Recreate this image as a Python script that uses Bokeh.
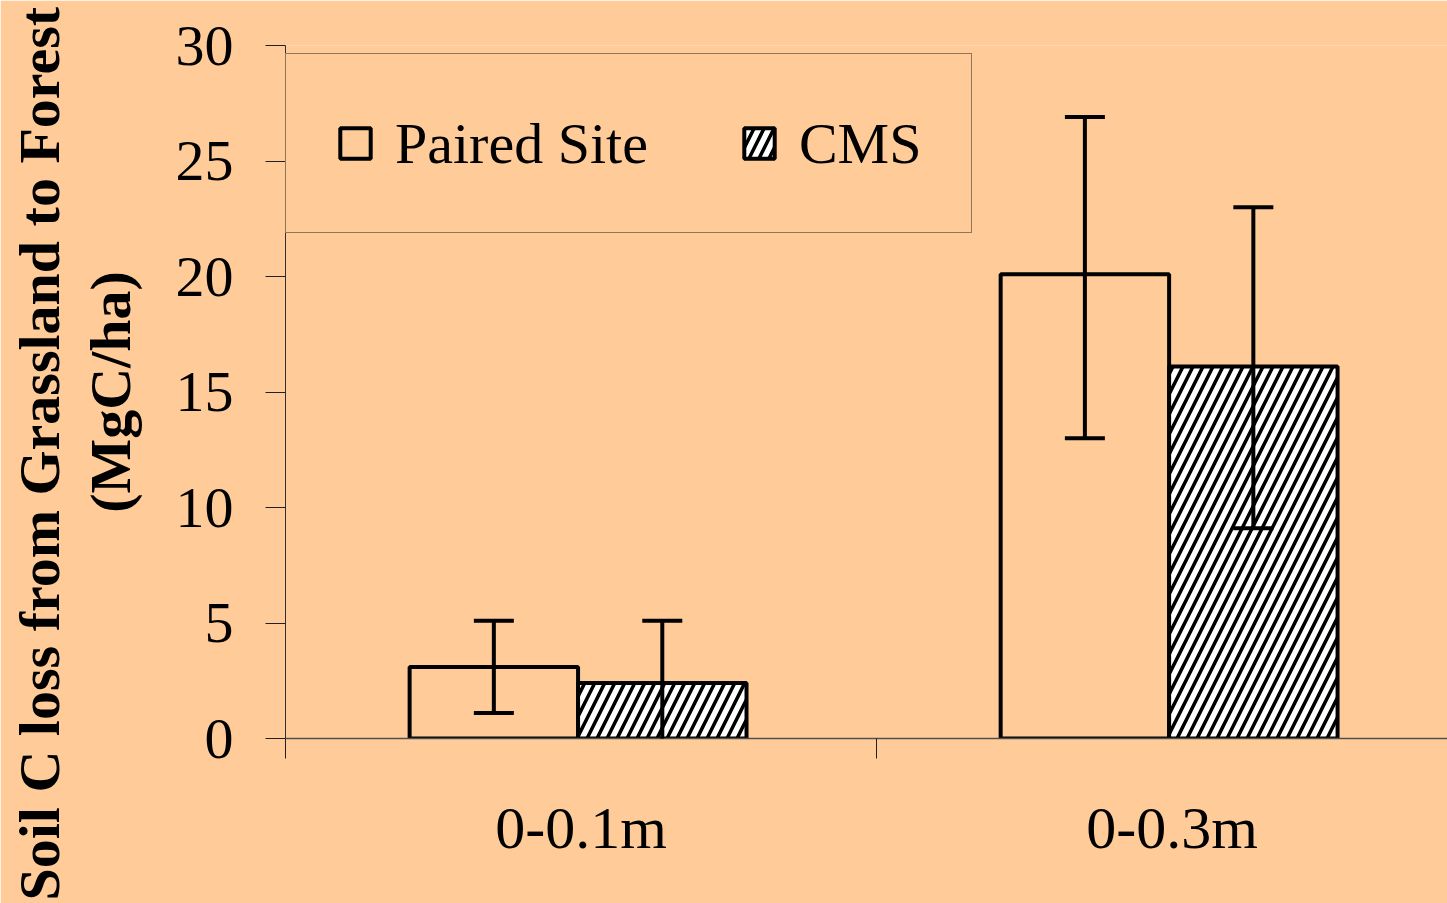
from bokeh.plotting import figure
from bokeh.models import (Range1d, FixedTicker, Whisker, ColumnDataSource, Legend,
                          LegendItem, TeeHead, Title)
from bokeh.embed import file_html
from bokeh.resources import INLINE

categories = ["0-0.1m", "0-0.3m"]
series_names = ["Paired Site", "CMS"]
paired = [3.1, 20.1]
paired_lo = [1.1, 13.0]
paired_hi = [5.1, 26.9]
cms = [2.4, 16.1]
cms_lo = [-0.3, 9.1]
cms_hi = [5.1, 23.0]
y_ticks = [0, 5, 10, 15, 20, 25, 30]
y_title = ["Soil C loss from Grassland to Forest", "(MgC/ha)"]

BG = "#FFCC99"
W = 0.285
SHIFT = -0.005
FONT = "Liberation Serif"

p = figure(width=1447, height=903, output_backend="svg", toolbar_location=None,
           x_range=Range1d(-0.5, 1.466), y_range=Range1d(0, 30),
           min_border_left=285, min_border_top=45, min_border_bottom=165, min_border_right=0)
p.background_fill_color = BG
p.border_fill_color = BG
p.outline_line_color = None
p.grid.visible = False

idx = list(range(len(categories)))
centers = [i + SHIFT for i in idx]
src_p = ColumnDataSource(dict(x=[c - W / 2 for c in centers], top=paired, lo=paired_lo, hi=paired_hi))
src_c = ColumnDataSource(dict(x=[c + W / 2 for c in centers], top=cms, lo=cms_lo, hi=cms_hi))

r1 = p.vbar(x="x", top="top", bottom=0, width=W, source=src_p, fill_color=None,
            line_color="black", line_width=4)
r2 = p.vbar(x="x", top="top", bottom=0, width=W, source=src_c, fill_color="white",
            line_color="black", line_width=4, hatch_pattern="/", hatch_color="black",
            hatch_scale=20, hatch_weight=3.5)

for src in (src_p, src_c):
    w = Whisker(source=src, base="x", upper="hi", lower="lo", line_color="black", line_width=4,
                upper_head=TeeHead(size=40, line_width=4, line_color="black"),
                lower_head=TeeHead(size=40, line_width=4, line_color="black"),
                level="overlay")
    p.add_layout(w)

# y axis
ya = p.yaxis[0]
ya.ticker = FixedTicker(ticks=y_ticks)
ya.major_label_text_font = FONT
ya.major_label_text_font_size = "58px"
ya.major_label_text_color = "black"
ya.major_tick_out = 20
ya.major_tick_in = 0
ya.minor_tick_out = 0
ya.minor_tick_in = 0
ya.major_label_standoff = 32
ya.axis_line_color = "#303030"
ya.major_tick_line_color = "#202020"
ya.axis_label = y_title[1]
ya.axis_label_text_font = FONT
ya.axis_label_text_font_style = "bold"
ya.axis_label_text_font_size = "58px"
ya.axis_label_text_color = "black"
ya.axis_label_standoff = 30

# first line of the y title, outside the axis label
t1 = Title(text=y_title[0], align="left", offset=-162, vertical_align="bottom", standoff=6,
           text_font=FONT, text_font_style="bold", text_font_size="58px", text_color="black")
p.add_layout(t1, "left")

# x axis
xa = p.xaxis[0]
xa.ticker = FixedTicker(ticks=idx, minor_ticks=[i - 0.5 for i in idx] + [idx[-1] + 0.5])
xa.major_label_overrides = {i: c for i, c in zip(idx, categories)}
xa.major_label_text_font = FONT
xa.major_label_text_font_size = "60px"
xa.major_label_text_color = "black"
xa.major_tick_out = 0
xa.major_tick_in = 0
xa.minor_tick_out = 20
xa.minor_tick_in = 0
xa.minor_tick_line_color = "#202020"
xa.major_label_standoff = 36
xa.axis_line_color = "#505050"
xa.axis_line_width = 1.5

legend = Legend(items=[LegendItem(label=series_names[0], renderers=[r1]),
                       LegendItem(label=series_names[1], renderers=[r2])],
                orientation="horizontal", location=(0, 505), padding=50, spacing=92,
                label_standoff=21, glyph_width=38, glyph_height=38, label_height=78,
                label_text_font=FONT, label_text_font_size="58px", label_text_color="black",
                border_line_color="#202020", border_line_width=1,
                background_fill_color=BG, background_fill_alpha=1, margin=0)
p.add_layout(legend)

open("out.html", "w").write(file_html(p, INLINE))
